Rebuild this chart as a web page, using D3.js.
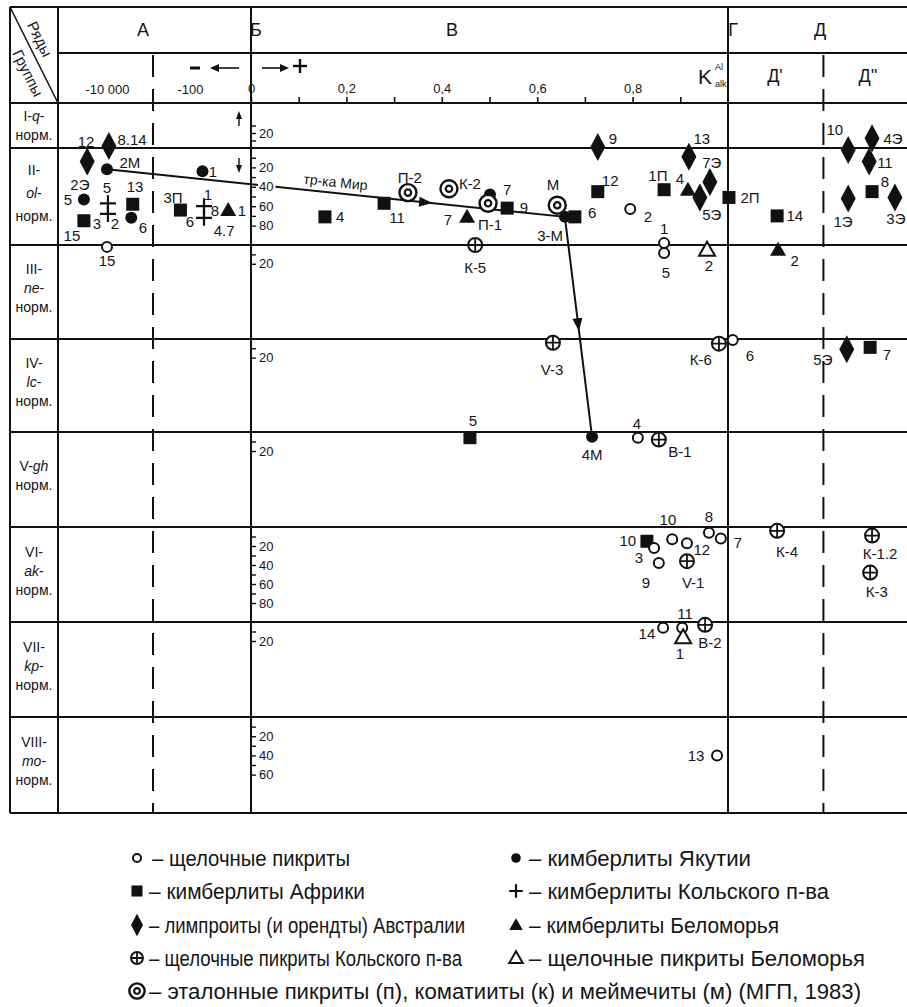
<!DOCTYPE html>
<html><head><meta charset="utf-8">
<script src="https://cdn.jsdelivr.net/npm/d3@7/dist/d3.min.js"></script>
<style>
body{margin:0;background:#fff}
svg text{font-family:"Liberation Sans",Arial,sans-serif;fill:#151515}
</style>
</head><body>
<svg id="chart" width="907" height="1007"></svg>
<script>
// ---------- data ----------
// every point: [K value (negative side on log scale), group row 1..8, position inside row 0..100]
const alkPicrites = [
  [-10000,3,2],[0.795,2,63],[0.866,3,-2],[0.866,3,8.5],[1.010,4,1],[0.811,5,6],
  [0.845,6,22],[0.883,6,13],[0.914,6,17],[0.960,6,6],[0.985,6,12],[0.855,6,38],
  [0.864,7,6],[0.904,7,6],[0.977,8,40]
];
const yakutiaKimb = [[-10000,2,22],[-50,2,24],[-36000,2,53],[-2600,2,72],[0.501,2,48],[0.658,2,71],[0.715,5,5]];
const africaKimb = [
  [-2400,2,58],[-36000,2,75],[-170,2,64],[0.155,2,71],[0.279,2,57],[0.537,2,62],[0.679,2,71],
  [0.727,2,45],[0.866,2,43],[1.002,2,51],[1.103,2,70],[1.302,2,45],[1.298,4,9],[0.459,5,6],[0.830,6,15]
];
const australiaLamp = [
  [-30000,2,14],[-9000,2,-2],[0.727,2,-1],[0.918,2,9],[0.962,2,35],[0.941,2,51],
  [1.252,2,2],[1.302,2,-10],[1.296,2,14],[1.252,2,52],[1.350,2,51],[1.249,4,11]
];
const kolaAlkPicrites = [[0.470,3,0],[0.633,4,4],[0.981,4,5],[0.855,5,8],[0.914,6,36],[1.103,6,4],[1.302,6,9],[1.298,6,48],[0.952,7,3]];
const kolaKimb = [[-9500,2,57],[-9500,2,68],[-46,2,60],[-46,2,72]];
const belomorKimb = [[-12,2,64],[0.453,2,71],[0.916,2,43],[1.105,3,5]];
const belomorAlkPicrites = [[0.956,3,5],[0.906,7,16]];
const referenceRocks = [[0.329,2,46],[0.415,2,42],[0.497,2,57],[0.642,2,59]];

// trend of the Mir pipe: 2М -> 3-М -> 4М
const mirPipePath = [[-10000,2,22],[0.658,2,71],[0.715,5,5]];

// point captions [text, K value, row, position]
const pointLabels = [
  ["12",-32000,2,-7],["8.14",-2500,2,-9],["2М",-2800,2,15],["1",-28,2,24],["2Э",-45000,2,38],
  ["5",-87000,2,53],["5",-10000,2,41],["13",-2100,2,40],["3",-17400,2,78],["2",-6400,2,78],
  ["6",-1360,2,82],["15",-70000,2,90],["3П",-257,2,51],["1",-37,2,48],["8",-25,2,64],
  ["6",-100,2,76],["4.7",-15,2,85],["1",-5.6,2,64],["15",-10000,3,17],
  ["4",0.187,2,71],["11",0.306,2,72],["П-2",0.333,2,30],["К-2",0.459,2,37],["7",0.537,2,43],
  ["П-1",0.501,2,79],["7",0.413,2,74],["9",0.572,2,61],["М",0.633,2,38],["3-М",0.627,2,90],
  ["6",0.715,2,67],["12",0.753,2,33],["9",0.759,2,-10],["2",0.832,2,71],["1П",0.853,2,28],
  ["13",0.945,2,-10],["4",0.899,2,31],["7Э",0.966,2,15],["5Э",0.966,2,69],["2П",1.046,2,51],
  ["14",1.140,2,70],["10",1.224,2,-19],["4Э",1.346,2,-10],["11",1.329,2,15],["8",1.329,2,35],
  ["1Э",1.241,2,76],["3Э",1.352,2,73],
  ["К-5",0.470,3,24],["1",0.866,3,-18],["5",0.870,3,29],["2",0.960,3,22],["2",1.140,3,16],
  ["V-3",0.631,4,33],["К-6",0.943,4,22],["6",1.046,4,18],["5Э",1.199,4,22],["7",1.333,4,17],
  ["5",0.465,5,-12],["4М",0.715,5,24],["4",0.809,5,-9],["В-1",0.899,5,21],
  ["10",0.790,6,14],["3",0.813,6,32],["10",0.874,6,-8],["12",0.945,6,24],["8",0.960,6,-11],
  ["7",1.021,6,16],["9",0.828,6,58],["V-1",0.927,6,58],["К-4",1.124,6,26],["К-1.2",1.319,6,28],
  ["К-3",1.312,6,68],
  ["14",0.830,7,12],["11",0.910,7,-9],["1",0.899,7,33],["В-2",0.962,7,22],
  ["13",0.933,8,40]
];

const seriesNames = ["А","Б","В","Г","Д"];
const subSeriesNames = ["Д'","Д''"];
const groupNames = ["I-*q*-|норм.","II-|*ol*-|норм.","III-|*ne*-|норм.","IV-|*lc*-|норм.",
                    "V-*gh*|норм.","VI-|*ak*-|норм.","VII-|*kp*-|норм.","VIII-|*mo*-|норм."];
const kTicks = [0,0.1,0.2,0.3,0.4,0.5,0.6,0.7,0.8,0.9];
const kTickLabels = [0,0.2,0.4,0.6,0.8];
const negTickLabels = [10000,100];
const rowTickLabels = [[20],[20,40,60,80],[20],[20],[20],[20,40,60,80],[20],[20,40,60]];

const legendLeft = [
  ["openCircle","–  щелочные пикриты"],
  ["square","– кимберлиты Африки"],
  ["diamond","– лимпроиты (и орендты) Австралии"],
  ["oplus","– щелочные пикриты Кольского п-ва"],
  ["target","– эталонные пикриты (п), коматииты (к) и меймечиты (м) (МГП, 1983)"]
];
const legendRight = [
  ["dot","– кимберлиты Якутии"],
  ["plus","– кимберлиты Кольского п-ва"],
  ["triUp","– кимберлиты Беломорья"],
  ["triOpen","– щелочные пикриты Беломорья"]
];

// ---------- layout ----------
const svg = d3.select("#chart");
const L = 10, LBL = 58, TOP = 7, H1 = 53, H2 = 103, R = 907;
const rowEdges = [103,148,245,339,432,527,622,717,813];
const BOT = rowEdges[8];

const xLin = d3.scaleLinear().domain([0,1]).range([251,728]);
const xLog = d3.scaleLog().domain([10000,100]).range([107,190]);
const xPos = v => v < 0 ? xLog(-v) : xLin(v);
const xB = xLin(0), xG = xLin(1), xA = 153, xD = xLin(1.2);

// group I is read upwards, the others downwards
const yRows = rowEdges.slice(0,-1).map((t,i) => i === 0
  ? d3.scaleLinear().domain([0,60]).range([148,103])
  : d3.scaleLinear().domain([0,100]).range([t, rowEdges[i+1]]));
const yPos = (r,v) => yRows[r-1](v);

const ink = "#111";

// ---------- grid ----------
const grid = svg.append("g").attr("stroke",ink).attr("stroke-width",2).attr("fill","none");
[TOP, H2, ...rowEdges.slice(1)].forEach(y => grid.append("line").attr("x1",L).attr("x2",R).attr("y1",y).attr("y2",y));
grid.append("line").attr("x1",LBL).attr("x2",R).attr("y1",H1).attr("y2",H1);
[L, LBL, xB, xG].forEach(x => grid.append("line").attr("x1",x).attr("x2",x).attr("y1",TOP).attr("y2",BOT));
[xA, xD].forEach(x => grid.append("line").attr("x1",x).attr("x2",x).attr("y1",H1+2).attr("y2",BOT)
  .attr("stroke-dasharray","22,12"));
// corner diagonal
grid.append("line").attr("x1",L).attr("y1",TOP).attr("x2",LBL).attr("y2",H2).attr("stroke-width",1.6);
const ang = Math.atan2(H2-TOP, LBL-L)*180/Math.PI;
svg.append("text").attr("transform",`translate(40,39) rotate(${ang})`).attr("text-anchor","middle")
  .attr("dominant-baseline","central").style("font-size","15px").text("Ряды");
svg.append("text").attr("transform",`translate(28,73) rotate(${ang})`).attr("text-anchor","middle")
  .attr("dominant-baseline","central").style("font-size","15px").text("Группы");

// ---------- header ----------
const headX = {"А":143, "Б":xB+5, "В":452, "Г":xG+5, "Д":820};
seriesNames.forEach(s => svg.append("text").attr("x",headX[s]).attr("y",30)
  .attr("text-anchor","middle").attr("dominant-baseline","central").style("font-size","18px").text(s));
svg.append("text").attr("x",775).attr("y",76).attr("text-anchor","middle").attr("dominant-baseline","central")
  .style("font-size","18px").text(subSeriesNames[0]);
svg.append("text").attr("x",868).attr("y",76).attr("text-anchor","middle").attr("dominant-baseline","central")
  .style("font-size","18px").text(subSeriesNames[1]);
svg.append("text").attr("x",698).attr("y",84).style("font-size","21px").text("K");
svg.append("text").attr("x",715).attr("y",70).style("font-size","9px").text("Al");
svg.append("text").attr("x",715).attr("y",87).style("font-size","9px").text("alk");

// K scale on the header bottom
const kAxis = d3.axisTop(xLin).tickValues(kTicks).tickSize(6).tickPadding(4)
  .tickFormat(d => kTickLabels.includes(d) ? String(d).replace(".",",") : "");
const gk = svg.append("g").attr("transform",`translate(0,${H2})`).call(kAxis);
gk.select(".domain").remove();
gk.selectAll("line").attr("stroke",ink).attr("stroke-width",1.6);
gk.selectAll("text").style("font-size","13px").attr("fill",ink).style("font-family","Liberation Sans, Arial");
const nAxis = d3.axisTop(xLog).tickValues(negTickLabels).tickSize(0).tickPadding(9)
  .tickFormat(d => "-" + d3.format(",")(d).replace(/,/g," "));
const gn = svg.append("g").attr("transform",`translate(0,${H2})`).call(nAxis);
gn.select(".domain").remove();
gn.selectAll("text").style("font-size","13px").attr("fill",ink).style("font-family","Liberation Sans, Arial");

// sign arrows
const ar = svg.append("g").attr("stroke",ink).attr("fill",ink);
ar.append("line").attr("x1",190).attr("x2",200).attr("y1",68).attr("y2",68).attr("stroke-width",3);
ar.append("line").attr("x1",239).attr("x2",214).attr("y1",68).attr("y2",68).attr("stroke-width",1.6);
ar.append("path").attr("d","M210,68 L219,64 L219,72 Z").attr("stroke","none");
ar.append("line").attr("x1",262).attr("x2",284).attr("y1",68).attr("y2",68).attr("stroke-width",1.6);
ar.append("path").attr("d","M289,68 L280,64 L280,72 Z").attr("stroke","none");
ar.append("line").attr("x1",293).attr("x2",307).attr("y1",66).attr("y2",66).attr("stroke-width",2.4);
ar.append("line").attr("x1",300).attr("x2",300).attr("y1",59).attr("y2",73).attr("stroke-width",2.4);
// direction of reading in groups I and II
ar.append("line").attr("x1",239).attr("x2",239).attr("y1",126).attr("y2",116).attr("stroke-width",1.4);
ar.append("path").attr("d","M239,111 L236,119 L242,119 Z").attr("stroke","none");
ar.append("line").attr("x1",239).attr("x2",239).attr("y1",158).attr("y2",168).attr("stroke-width",1.4);
ar.append("path").attr("d","M239,173 L236,165 L242,165 Z").attr("stroke","none");

// ---------- group labels ----------
groupNames.forEach((g,i) => {
  const lines = g.split("|");
  const top = rowEdges[i], bot = rowEdges[i+1];
  const lh = i === 1 ? 23 : 19;
  const cy = (top+bot)/2 - (i===0 ? 0 : 4);
  lines.forEach((ln,j) => {
    const t = svg.append("text").attr("x",34).attr("y", cy + (j-(lines.length-1)/2)*lh)
      .attr("text-anchor","middle").attr("dominant-baseline","central").style("font-size","14px");
    ln.split("*").forEach((part,k) => { if (part) t.append("tspan").style("font-style", k%2 ? "italic" : "normal").text(part); });
  });
});

// ---------- row scales on the Б line ----------
yRows.forEach((ys,i) => {
  const maxV = i === 0 ? 40 : (rowTickLabels[i].length > 1 ? d3.max(rowTickLabels[i]) + 10 : 30);
  const vals = d3.range(10, maxV, 10);
  const ax = d3.axisRight(ys).tickValues(vals).tickSize(5).tickPadding(3)
    .tickFormat(d => rowTickLabels[i].includes(d) ? d : "");
  const g = svg.append("g").attr("transform",`translate(${xB},0)`).call(ax);
  g.select(".domain").remove();
  g.selectAll("line").attr("stroke",ink).attr("stroke-width",1.4);
  g.selectAll("text").style("font-size","13px").attr("fill",ink).style("font-family","Liberation Sans, Arial");
  g.selectAll(".tick").each(function(){
    const tx = d3.select(this).select("text");
    if (!tx.text()) return;
    const b = tx.node().getBBox();
    d3.select(this).insert("rect","text").attr("x",b.x-1).attr("y",b.y+1).attr("width",b.width+3).attr("height",b.height-2).attr("fill","#fff");
  });
});

// ---------- Mir pipe trend ----------
const pathPts = mirPipePath.map(d => [xPos(d[0]), yPos(d[1],d[2])]);
svg.insert("path", "g").attr("d", d3.line()(pathPts)).attr("fill","none").attr("stroke",ink).attr("stroke-width",2);
function arrowHead(a, b, t){
  const x = a[0]+(b[0]-a[0])*t, y = a[1]+(b[1]-a[1])*t;
  const an = Math.atan2(b[1]-a[1], b[0]-a[0])*180/Math.PI;
  svg.append("path").attr("d","M0,0 L-13,-5 L-13,5 Z").attr("fill",ink)
    .attr("transform",`translate(${x},${y}) rotate(${an})`);
}
arrowHead(pathPts[0], pathPts[1], 0.71);
arrowHead(pathPts[1], pathPts[2], 0.52);
{
  const a = pathPts[0], b = pathPts[1];
  const an = Math.atan2(b[1]-a[1], b[0]-a[0])*180/Math.PI;
  svg.append("text").attr("transform",`translate(335,187) rotate(${an})`).attr("text-anchor","middle")
    .style("font-size","14px").text("тр-ка Мир");
}

// ---------- symbols ----------
function sym(g, type, x, y, k=1){
  const s = g.append("g").attr("transform",`translate(${x},${y})`);
  switch(type){
    case "openCircle": s.append("circle").attr("r",5*k).attr("fill","#fff").attr("stroke",ink).attr("stroke-width",2); break;
    case "dot": s.append("circle").attr("r",6*k).attr("fill",ink); break;
    case "square": s.append("rect").attr("x",-6.5*k).attr("y",-6.5*k).attr("width",13*k).attr("height",13*k).attr("fill",ink); break;
    case "diamond": s.append("path").attr("d",`M0,${-14*k} L${7.5*k},0 L0,${14*k} L${-7.5*k},0 Z`).attr("fill",ink); break;
    case "plus": s.append("path").attr("d",`M${-8*k},0 H${8*k} M0,${-8*k} V${8*k}`).attr("stroke",ink).attr("stroke-width",2.2); break;
    case "triUp": s.append("path").attr("d",`M0,${-8*k} L${8*k},${6*k} L${-8*k},${6*k} Z`).attr("fill",ink); break;
    case "triOpen": s.append("path").attr("d",`M0,${-8*k} L${8*k},${6*k} L${-8*k},${6*k} Z`).attr("fill","#fff").attr("stroke",ink).attr("stroke-width",2); break;
    case "oplus":
      s.append("circle").attr("r",7*k).attr("fill","#fff").attr("stroke",ink).attr("stroke-width",2);
      s.append("path").attr("d",`M${-7*k},0 H${7*k} M0,${-7*k} V${7*k}`).attr("stroke",ink).attr("stroke-width",1.8); break;
    case "target":
      s.append("circle").attr("r",8.5*k).attr("fill","#fff").attr("stroke",ink).attr("stroke-width",2.4);
      s.append("circle").attr("r",3.2*k).attr("fill","#fff").attr("stroke",ink).attr("stroke-width",2.2); break;
  }
}
const pts = svg.append("g");
const draw = (arr, type) => arr.forEach(d => sym(pts, type, xPos(d[0]), yPos(d[1], d[2])));
draw(australiaLamp,"diamond");
draw(africaKimb,"square");
draw(yakutiaKimb,"dot");
draw(referenceRocks,"target");
draw(kolaKimb,"plus");
draw(belomorKimb,"triUp");
draw(kolaAlkPicrites,"oplus");
draw(alkPicrites,"openCircle");
draw(belomorAlkPicrites,"triOpen");

svg.append("g").selectAll("text").data(pointLabels).join("text")
  .attr("x", d => xPos(d[1])).attr("y", d => yPos(d[2], d[3]))
  .attr("text-anchor","middle").attr("dominant-baseline","central")
  .style("font-size","15px").text(d => d[0]);

// ---------- legend ----------
// condensed lettering: each line is fitted to its printed width
const legLeftWidth = [198, 216, 316, 313, 712];
const legRightWidth = [222, 300, 250, 336];
const lg = svg.append("g");
const legY = [858, 891, 925, 958, 991];
const symScale = {openCircle:0.8, diamond:0.8, dot:0.8, target:0.9};
legendLeft.forEach((d,i) => {
  sym(lg, d[0], 137, legY[i], symScale[d[0]] || 0.85);
  lg.append("text").attr("x", d[0]==="openCircle" ? 152 : 149).attr("y", legY[i]).attr("dominant-baseline","central")
    .attr("textLength", legLeftWidth[i]).attr("lengthAdjust","spacingAndGlyphs")
    .style("font-size","22px").text(d[1]);
});
legendRight.forEach((d,i) => {
  sym(lg, d[0], 516, legY[i], symScale[d[0]] || 0.85);
  lg.append("text").attr("x", 529).attr("y", legY[i]).attr("dominant-baseline","central")
    .attr("textLength", legRightWidth[i]).attr("lengthAdjust","spacingAndGlyphs")
    .style("font-size","22px").text(d[1]);
});
</script>
</body></html>
